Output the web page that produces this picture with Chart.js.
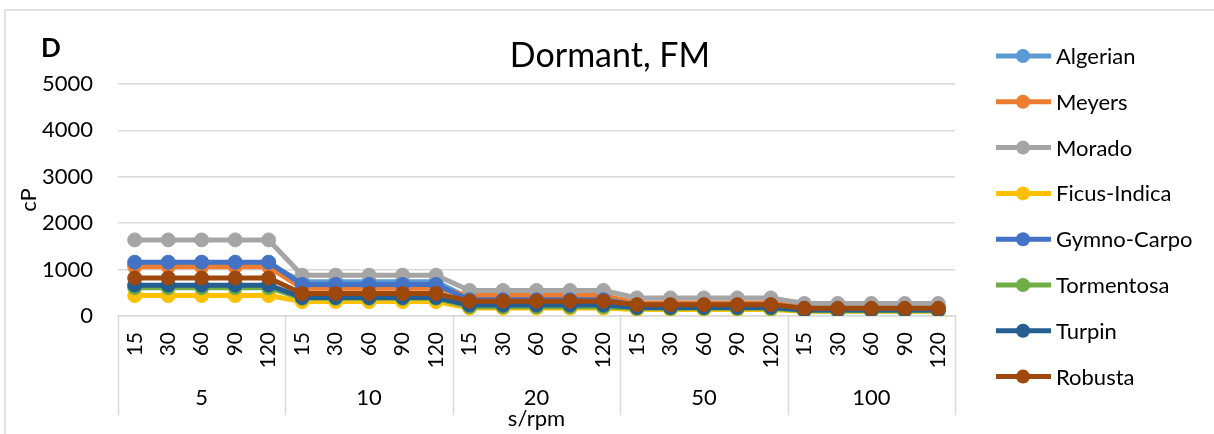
<!DOCTYPE html>
<html>
<head>
<meta charset="utf-8">
<script src="https://cdn.jsdelivr.net/npm/chart.js@4.4.1/dist/chart.umd.min.js"></script>
<style>
  html, body { margin: 0; padding: 0; background: #ffffff; }
  #wrap { width: 1214px; height: 434px; position: relative; }
</style>
</head>
<body>
<div id="wrap"><canvas id="c" width="1214" height="434"></canvas></div>
<script>
// Outer grouping (speed, rpm) and inner grouping (time, s)
const speeds = ['5', '10', '20', '50', '100'];
const times = ['15', '30', '60', '90', '120'];
const yTicks = [0, 1000, 2000, 3000, 4000, 5000];

const seriesNames = ['Algerian', 'Meyers', 'Morado', 'Ficus-Indica', 'Gymno-Carpo', 'Tormentosa', 'Turpin', 'Robusta'];
const seriesColors = ['#5B9BD5', '#ED7D31', '#A5A5A5', '#FFC000', '#4472C4', '#70AD47', '#255E91', '#9E480E'];

// Viscosity (cP), five readings per speed group
const algerian   = [1110, 1110, 1110, 1110, 1110,  740,  740,  740,  740,  740,  380,  380,  380,  380,  380,  220,  220,  220,  220,  220,  170,  170,  170,  170,  170];
const meyers     = [1060, 1060, 1060, 1060, 1060,  600,  600,  600,  600,  600,  440,  440,  440,  440,  440,  280,  280,  280,  280,  280,  190,  190,  190,  190,  190];
const morado     = [1640, 1640, 1640, 1640, 1640,  880,  880,  880,  880,  880,  550,  550,  550,  550,  550,  390,  390,  390,  390,  390,  270,  270,  270,  270,  270];
const ficus      = [ 440,  440,  440,  440,  440,  310,  310,  310,  310,  310,  170,  170,  170,  170,  170,  140,  140,  140,  140,  140,  100,  100,  100,  100,  100];
const gymno      = [1160, 1160, 1160, 1160, 1160,  680,  680,  680,  680,  680,  350,  350,  350,  350,  350,  230,  230,  230,  230,  230,  160,  160,  160,  160,  160];
const tormentosa = [ 610,  610,  610,  610,  610,  380,  380,  380,  380,  380,  200,  200,  200,  200,  200,  165,  165,  165,  165,  165,  115,  115,  115,  115,  115];
const turpin     = [ 665,  665,  665,  665,  665,  400,  400,  400,  400,  400,  235,  235,  235,  235,  235,  185,  185,  185,  185,  185,  130,  130,  130,  130,  130];
const robusta    = [ 820,  820,  820,  820,  820,  485,  485,  485,  485,  485,  320,  320,  320,  320,  320,  245,  245,  245,  245,  245,  165,  165,  165,  165,  165];

const seriesValues = [algerian, meyers, morado, ficus, gymno, tormentosa, turpin, robusta];

const FONT = 'Lato, "Open Sans", sans-serif';
const GRID = '#d9d9d9';

// One label per reading; the speed group is derived from the position
const labels = [];
speeds.forEach(() => times.forEach(t => labels.push(t)));

const datasets = seriesNames.map((name, i) => ({
  label: name,
  data: seriesValues[i],
  borderColor: seriesColors[i],
  backgroundColor: seriesColors[i],
  pointBackgroundColor: seriesColors[i],
  pointBorderColor: seriesColors[i],
  borderWidth: 5,
  pointRadius: 7,
  pointBorderWidth: 1,
  borderJoinStyle: 'round',
  tension: 0,
  fill: false,
  order: seriesNames.length - i
}));

// Frame, titles, grouped category labels and legend
const decorations = {
  id: 'decorations',
  beforeDraw(chart) {
    const ctx = chart.ctx;
    ctx.save();
    ctx.strokeStyle = GRID;
    ctx.lineWidth = 1.5;
    ctx.beginPath();
    ctx.moveTo(5, 434);
    ctx.lineTo(5, 10);
    ctx.lineTo(1214, 10);
    ctx.stroke();
    ctx.restore();
  },
  afterDraw(chart) {
    const ctx = chart.ctx;
    const xs = chart.scales.x;
    const n = times.length;
    ctx.save();

    // Group separators and speed labels under the time ticks
    ctx.strokeStyle = GRID;
    ctx.lineWidth = 1.5;
    for (let g = 0; g <= speeds.length; g++) {
      let x;
      if (g === 0) x = xs.left;
      else if (g === speeds.length) x = xs.right;
      else x = (xs.getPixelForTick(g * n - 1) + xs.getPixelForTick(g * n)) / 2;
      x = Math.round(x) + 0.5;
      ctx.beginPath();
      ctx.moveTo(x, xs.top);
      ctx.lineTo(x, 415);
      ctx.stroke();
    }
    ctx.fillStyle = '#000';
    ctx.font = '22px ' + FONT;
    ctx.textAlign = 'center';
    ctx.textBaseline = 'middle';
    speeds.forEach((s, g) => {
      const cx = (xs.getPixelForTick(g * n) + xs.getPixelForTick(g * n + n - 1)) / 2;
      ctx.fillText(s, cx, 398);
    });

    // Chart title and panel letter
    ctx.font = '34px ' + FONT;
    ctx.fillText('Dormant, FM', 610, 56);
    ctx.font = 'bold 26px ' + FONT;
    ctx.fillText('D', 51, 49);

    // Legend: line with marker, then name
    ctx.textAlign = 'left';
    ctx.font = '22px ' + FONT;
    seriesNames.forEach((name, i) => {
      const y = 56 + i * 45.8;
      ctx.strokeStyle = seriesColors[i];
      ctx.lineWidth = 5;
      ctx.beginPath();
      ctx.moveTo(996, y);
      ctx.lineTo(1051, y);
      ctx.stroke();
      ctx.fillStyle = seriesColors[i];
      ctx.beginPath();
      ctx.arc(1023, y, 7, 0, Math.PI * 2);
      ctx.fill();
      ctx.fillStyle = '#000';
      ctx.fillText(name, 1056, y + 1);
    });
    ctx.restore();
  }
};

new Chart(document.getElementById('c'), {
  type: 'line',
  data: { labels, datasets },
  plugins: [decorations],
  options: {
    responsive: false,
    animation: false,
    devicePixelRatio: 1,
    layout: { padding: { top: 84, right: 259, left: 0, bottom: 0 } },
    plugins: {
      legend: { display: false },
      tooltip: { enabled: false },
      title: { display: false }
    },
    scales: {
      x: {
        type: 'category',
        offset: true,
        grid: { display: false, drawTicks: false },
        border: { display: true, color: GRID, width: 1.5 },
        ticks: {
          autoSkip: false,
          minRotation: 90,
          maxRotation: 90,
          padding: 16,
          color: '#000',
          font: { family: FONT, size: 21 },
          callback: (v, i) => labels[i]
        },
        title: {
          display: true,
          text: 's/rpm',
          color: '#000',
          font: { family: FONT, size: 22 },
          padding: { top: 0, bottom: 2 }
        },
        afterFit: s => { s.height = 118; }
      },
      y: {
        min: yTicks[0],
        max: yTicks[yTicks.length - 1],
        afterBuildTicks: s => { s.ticks = yTicks.map(v => ({ value: v })); },
        ticks: {
          padding: 25,
          color: '#000',
          font: { family: FONT, size: 22 },
          callback: v => String(v)
        },
        grid: { color: GRID, lineWidth: 1.5, drawTicks: false },
        border: { display: false },
        title: {
          display: true,
          text: 'cP',
          color: '#000',
          font: { family: FONT, size: 22 },
          padding: { top: 16, bottom: 0 }
        },
        afterFit: s => { s.width = 118; }
      }
    }
  }
});
</script>
</body>
</html>
